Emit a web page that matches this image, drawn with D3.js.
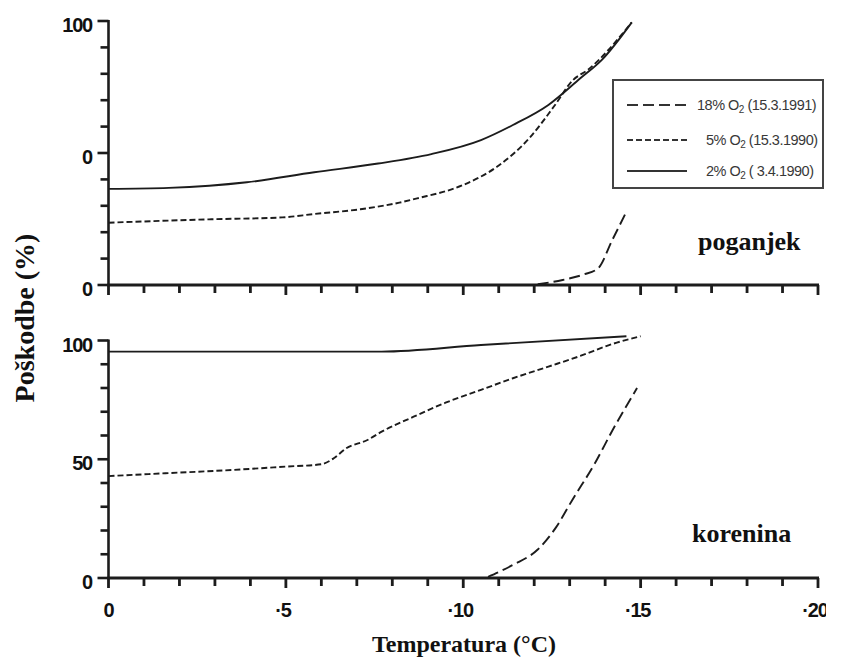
<!DOCTYPE html>
<html>
<head>
<meta charset="utf-8">
<script src="https://cdn.jsdelivr.net/npm/d3@7"></script>
<style>
  html, body { margin: 0; padding: 0; background: #fff; }
  svg { display: block; }
</style>
</head>
<body>
<svg id="chart" width="865" height="660"></svg>
<script>
// ---------------- DATA ----------------
// Upper panel: "poganjek" (shoot)
const topTemp18 = [-12.1, -12.8, -13.4, -13.8, -14.2, -14.6];
const topVal18  = [0.3, 1.9, 4.0, 6.3, 17.0, 27.8];
const topTemp5  = [0, -2.9, -4.9, -5.8, -7.1, -8.2, -8.7, -10.0, -10.95, -11.9, -12.55, -13.1, -13.5, -14.75];
const topVal5   = [23.6, 24.9, 25.6, 26.9, 28.7, 31.2, 32.8, 37.9, 44.8, 56.2, 67.5, 77.7, 81.4, 99.5];
const topTemp2  = [0, -1.7, -3.9, -5.8, -7.6, -9.1, -10.5, -11.4, -12.4, -13.3, -13.9, -14.75];
const topVal2   = [36.4, 36.8, 38.9, 42.7, 46.0, 49.6, 54.9, 60.6, 68.2, 78.3, 85.2, 99.5];

// Lower panel: "korenina" (root)
const botTemp18 = [-10.7, -11.4, -12.1, -12.6, -13.1, -13.7, -14.2, -14.9];
const botVal18  = [0.5, 5.5, 12.0, 21.0, 33.5, 48.0, 62.0, 80.0];
const botTemp5  = [0, -1.6, -3.5, -5.0, -6.0, -6.35, -6.7, -7.3, -7.7, -8.6, -9.5, -10.5, -11.4, -12.4, -13.3, -14.2, -15.0];
const botVal5   = [42.9, 44.1, 45.5, 46.9, 47.9, 50.4, 54.6, 58.1, 61.6, 67.9, 73.8, 79.2, 84.1, 89.0, 93.5, 98.5, 101.8];
const botTemp2  = [0, -7.7, -10.5, -14.6];
const botVal2   = [95.3, 95.3, 98.1, 101.8];

// Axis ticks / labels
const xMinorTicks  = d3.range(0, -20.5, -1);
const yMinorTicks  = d3.range(0, 100.5, 10);
const xTickValues  = [0, -5, -10, -15, -20];
const xTickLabels  = ["0", "·5", "·10", "·15", "·20"];
const topYTickValues = [0, 50, 100];
const topYTickLabels = ["0", "0", "100"];
const botYTickValues = [0, 50, 100];
const botYTickLabels = ["0", "50", "100"];

// Legend
const legendMain = ["18% O", "5% O", "2% O"];
const legendTail = [" (15.3.1991)", " (15.3.1990)", " ( 3.4.1990)"];

const panelLabels = ["poganjek", "korenina"];
const yTitle = "Poškodbe (%)";
const xTitle = "Temperatura (°C)";

// ---------------- DRAW ----------------
const svg = d3.select("#chart");
svg.append("defs").append("clipPath").attr("id", "pageclip")
  .append("rect").attr("x", 0).attr("y", 0).attr("width", 826).attr("height", 660);
const g = svg.append("g").attr("clip-path", "url(#pageclip)");

const ink = "#1c1c1c";
const x = d3.scaleLinear().domain([0, -20]).range([108.5, 818]);
const yTop = d3.scaleLinear().domain([0, 100]).range([285, 21]);
const yBot = d3.scaleLinear().domain([0, 100]).range([578, 340.5]);

const dashes = { s18: "11,5", s5: "6,3", s2: null };

function drawPanel(y, yTickVals, yTickLabs, showXLabels, series) {
  const ax = g.append("g");
  const y0 = y(0), x0 = x(0);
  // x ticks (downward)
  ax.selectAll("rect.xt").data(xMinorTicks).join("rect").attr("class", "xt")
    .attr("x", d => x(d) - 1.4).attr("width", 2.8)
    .attr("y", y0).attr("height", d => (Math.abs(Math.round(d)) % 5 === 0 ? 10 : 8))
    .attr("fill", ink);
  // y ticks (leftward)
  ax.selectAll("rect.yt").data(yMinorTicks).join("rect").attr("class", "yt")
    .attr("x", d => x0 - (d % 50 === 0 ? 11 : 8)).attr("width", d => (d % 50 === 0 ? 11 : 8))
    .attr("y", d => y(d) - 1.3).attr("height", 2.6)
    .attr("fill", ink);
  // axis lines
  ax.append("line").attr("x1", x(0) - 1).attr("x2", x(-20) + 1).attr("y1", y0).attr("y2", y0)
    .attr("stroke", ink).attr("stroke-width", 3);
  ax.append("line").attr("x1", x0).attr("x2", x0).attr("y1", y0).attr("y2", y(100) - 1)
    .attr("stroke", ink).attr("stroke-width", 2.6);

  // y tick labels
  ax.selectAll("text.yl").data(yTickVals).join("text").attr("class", "yl")
    .attr("x", 92).attr("y", d => y(d) + 11)
    .attr("text-anchor", "end")
    .attr("font-family", "Liberation Sans, Arial, sans-serif")
    .attr("font-weight", "bold").attr("font-size", 20).attr("fill", "#111")
    .attr("letter-spacing", -1.2)
    .text((d, i) => yTickLabs[i]);

  if (showXLabels) {
    ax.selectAll("text.xl").data(xTickValues).join("text").attr("class", "xl")
      .attr("x", d => x(d) - (d === 0 ? 0 : 3)).attr("y", y0 + 39)
      .attr("text-anchor", "middle")
      .attr("font-family", "Liberation Sans, Arial, sans-serif")
      .attr("font-weight", "bold").attr("font-size", 20).attr("fill", "#111")
      .attr("letter-spacing", -1.2)
      .text((d, i) => xTickLabels[i]);
  }

  const line = d3.line().x(d => x(d[0])).y(d => y(d[1])).curve(d3.curveMonotoneX);
  series.forEach(s => {
    const pts = s.t.map((t, i) => [t, s.v[i]]);
    g.append("path").datum(pts).attr("d", line)
      .attr("fill", "none").attr("stroke", ink).attr("stroke-width", 1.9)
      .attr("stroke-dasharray", s.dash);
  });
}

drawPanel(yTop, topYTickValues, topYTickLabels, false, [
  { t: topTemp18, v: topVal18, dash: dashes.s18 },
  { t: topTemp5,  v: topVal5,  dash: dashes.s5 },
  { t: topTemp2,  v: topVal2,  dash: dashes.s2 }
]);
drawPanel(yBot, botYTickValues, botYTickLabels, true, [
  { t: botTemp18, v: botVal18, dash: dashes.s18 },
  { t: botTemp5,  v: botVal5,  dash: dashes.s5 },
  { t: botTemp2,  v: botVal2,  dash: dashes.s2 }
]);

// Panel labels
const serif = "Liberation Serif, Times New Roman, serif";
g.append("text").attr("x", 698).attr("y", 250)
  .attr("font-family", serif).attr("font-weight", "bold").attr("font-size", 26).attr("fill", "#111")
  .text(panelLabels[0]);
g.append("text").attr("x", 692).attr("y", 542)
  .attr("font-family", serif).attr("font-weight", "bold").attr("font-size", 26).attr("fill", "#111")
  .text(panelLabels[1]);

// Axis titles
g.append("text").attr("transform", "translate(34,318) rotate(-90)")
  .attr("text-anchor", "middle")
  .attr("font-family", serif).attr("font-weight", "bold").attr("font-size", 28).attr("fill", "#111")
  .text(yTitle);
g.append("text").attr("x", 464).attr("y", 652)
  .attr("text-anchor", "middle")
  .attr("font-family", serif).attr("font-weight", "bold").attr("font-size", 24).attr("fill", "#111")
  .text(xTitle);

// Legend
const lg = g.append("g");
lg.append("rect").attr("x", 613).attr("y", 80).attr("width", 210).attr("height", 108)
  .attr("fill", "#fff").attr("stroke", "#444").attr("stroke-width", 2);
const rowsY = [105, 140, 171];
const textX = [697, 706, 706];
const legDash = [dashes.s18, dashes.s5, dashes.s2];
rowsY.forEach((ry, i) => {
  lg.append("line").attr("x1", 627).attr("x2", 687).attr("y1", ry).attr("y2", ry)
    .attr("stroke", "#333").attr("stroke-width", 1.8).attr("stroke-dasharray", legDash[i]);
  const t = lg.append("text").attr("x", textX[i]).attr("y", ry + 5)
    .attr("font-family", "Liberation Sans, Arial, sans-serif").attr("font-size", 14.5)
    .attr("fill", "#383838").attr("letter-spacing", -0.5);
  t.append("tspan").text(legendMain[i]);
  t.append("tspan").attr("font-size", 10).attr("dy", 3).text("2");
  t.append("tspan").attr("dy", -3).text(legendTail[i]);
});
</script>
</body>
</html>
